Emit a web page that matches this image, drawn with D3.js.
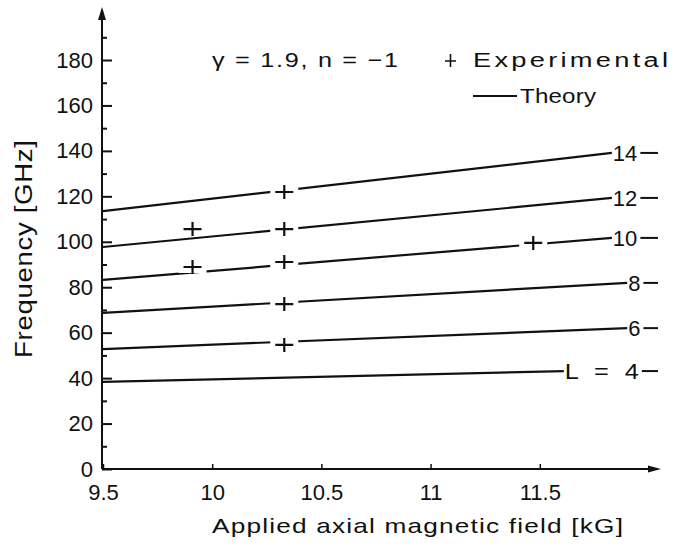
<!DOCTYPE html>
<html>
<head>
<meta charset="utf-8">
<script src="https://cdn.jsdelivr.net/npm/d3@7"></script>
<style>
  html, body { margin: 0; padding: 0; background: #fff; }
  svg { display: block; font-family: "Liberation Sans", Arial, Helvetica, sans-serif; }
</style>
</head>
<body>
<svg id="chart" width="673" height="552"></svg>
<script>
// ---- data ----
const modeL = [4, 6, 8, 10, 12, 14];
const modeLabels = ["L = 4", "6", "8", "10", "12", "14"];
const theoryStartField = [9.5, 9.5, 9.5, 9.5, 9.5, 9.5];
const theoryEndField = [11.61, 11.90, 11.90, 11.83, 11.83, 11.83];
const theoryStartFreq = [38.3, 52.8, 68.7, 83.2, 97.7, 113.5];
const theoryEndFreq = [43.1, 62.0, 81.9, 101.7, 119.3, 139.1];

const expField = [10.33, 10.33, 10.33, 10.33, 10.33, 9.91, 9.91, 11.47];
const expFreq = [54.6, 72.6, 91.1, 105.6, 121.9, 88.9, 105.6, 99.5];

const xTicks = [9.5, 10, 10.5, 11, 11.5];
const xTickLabels = ["9.5", "10", "10.5", "11", "11.5"];
const yTicks = [0, 20, 40, 60, 80, 100, 120, 140, 160, 180];
const yMinorTicks = [10, 30, 50, 70, 90, 110, 130, 150, 170, 190];

const xTitle = "Applied axial magnetic field [kG]";
const yTitle = "Frequency [GHz]";
const paramText = "\u03b3 = 1.9, n = \u22121";
const legendExp = "Experimental";
const legendTheory = "Theory";

// ---- scales ----
const svg = d3.select("#chart");
const x = d3.scaleLinear().domain([9.5, 12]).range([103, 649]);
const y = d3.scaleLinear().domain([0, 180]).range([469, 60]);
const x0 = 102; // axis line position
const ink = "#111";

// text drawn with a horizontal stretch (glyphs in the original are wide)
function wideText(tx, ty, str, size, width, sx, rot) {
  const g = svg.append("g")
    .attr("transform", `translate(${tx},${ty})` + (rot ? ` rotate(${rot})` : "") + ` scale(${sx},1)`);
  g.append("text").attr("x", 0).attr("y", 0)
    .attr("font-size", size).attr("fill", ink)
    .attr("textLength", width / sx).attr("lengthAdjust", "spacing")
    .text(str);
  return g;
}

// y axis major ticks
const yAxis = d3.axisLeft(y).tickValues(yTicks).tickSize(-10).tickPadding(9).tickFormat(d3.format("d"));
const gy = svg.append("g").attr("transform", `translate(${x0},0)`).call(yAxis);
gy.select(".domain").remove();
gy.selectAll("line").attr("stroke", ink).attr("stroke-width", 2);
gy.selectAll("text").attr("font-size", 22).attr("fill", ink).attr("font-family", "Liberation Sans, Arial, sans-serif");

// y minor ticks
const yAxisMinor = d3.axisLeft(y).tickValues(yMinorTicks).tickSize(-5).tickFormat("");
const gy2 = svg.append("g").attr("transform", `translate(${x0},0)`).call(yAxisMinor);
gy2.select(".domain").remove();
gy2.selectAll("line").attr("stroke", ink).attr("stroke-width", 2);

// x axis
const xAxis = d3.axisBottom(x).tickValues(xTicks).tickSize(-5).tickPadding(15)
  .tickFormat((d, i) => xTickLabels[i]);
const gx = svg.append("g").attr("transform", `translate(0,${y(0)})`).call(xAxis);
gx.select(".domain").remove();
gx.selectAll("line").attr("stroke", ink).attr("stroke-width", 1.5);
gx.selectAll("text").attr("font-size", 22).attr("fill", ink).attr("font-family", "Liberation Sans, Arial, sans-serif");

// axis lines with arrows
svg.append("line").attr("x1", x0).attr("x2", x0).attr("y1", y(0)).attr("y2", 14)
  .attr("stroke", ink).attr("stroke-width", 2);
svg.append("path").attr("d", `M${x0},7 L${x0 - 4},20 L${x0 + 4},20 Z`).attr("fill", ink);
svg.append("line").attr("x1", x0).attr("x2", 654).attr("y1", y(0)).attr("y2", y(0))
  .attr("stroke", ink).attr("stroke-width", 2);
svg.append("path").attr("d", `M661,${y(0)} L648,${y(0) - 3.5} L648,${y(0) + 3.5} Z`).attr("fill", ink);

// theory lines
const lineG = svg.append("g");
modeL.forEach((L, i) => {
  lineG.append("line")
    .attr("x1", x(theoryStartField[i])).attr("y1", y(theoryStartFreq[i]))
    .attr("x2", x(theoryEndField[i])).attr("y2", y(theoryEndFreq[i]))
    .attr("stroke", ink).attr("stroke-width", 2.2);
});

// mode labels with trailing dash
modeL.forEach((L, i) => {
  const ex = x(theoryEndField[i]);
  const ey = y(theoryEndFreq[i]);
  let tw;
  if (modeLabels[i].length > 2) {
    wideText(ex + 1, ey + 8, modeLabels[i], 22, 74, 1.15);
    tw = 74;
  } else {
    const t = svg.append("text")
      .attr("x", ex + 1).attr("y", ey + 8)
      .attr("font-size", 22).attr("fill", ink)
      .text(modeLabels[i]);
    tw = t.node().getComputedTextLength();
  }
  svg.append("line")
    .attr("x1", ex + 1 + tw + 3).attr("x2", 658)
    .attr("y1", ey).attr("y2", ey)
    .attr("stroke", ink).attr("stroke-width", 2);
});

// experimental points: white gap in the line, then a cross
const expG = svg.append("g");
expField.forEach((f, i) => {
  const cx = x(f), cy = y(expFreq[i]);
  expG.append("rect").attr("x", cx - 14).attr("y", cy - 6).attr("width", 28).attr("height", 12)
    .attr("fill", "#fff");
});
expField.forEach((f, i) => {
  const cx = x(f), cy = y(expFreq[i]);
  expG.append("path")
    .attr("d", `M${cx - 9},${cy} H${cx + 9} M${cx},${cy - 7} V${cy + 7}`)
    .attr("stroke", ink).attr("stroke-width", 2.2).attr("fill", "none");
});

// axis titles
wideText(212, 533, xTitle, 21, 411, 1.25);
wideText(32, 358, yTitle, 24, 218, 1.15, -90);

// annotation & legend
wideText(212, 67, paramText, 21, 186, 1.2);
svg.append("path").attr("d", "M445,61 H456 M450.5,54 V67")
  .attr("stroke", ink).attr("stroke-width", 1.6);
wideText(473, 67, legendExp, 21, 195, 1.3);
svg.append("line").attr("x1", 473).attr("x2", 517).attr("y1", 96).attr("y2", 96)
  .attr("stroke", ink).attr("stroke-width", 2.2);
wideText(520, 103, legendTheory, 21, 76, 1.15);
</script>
</body>
</html>
